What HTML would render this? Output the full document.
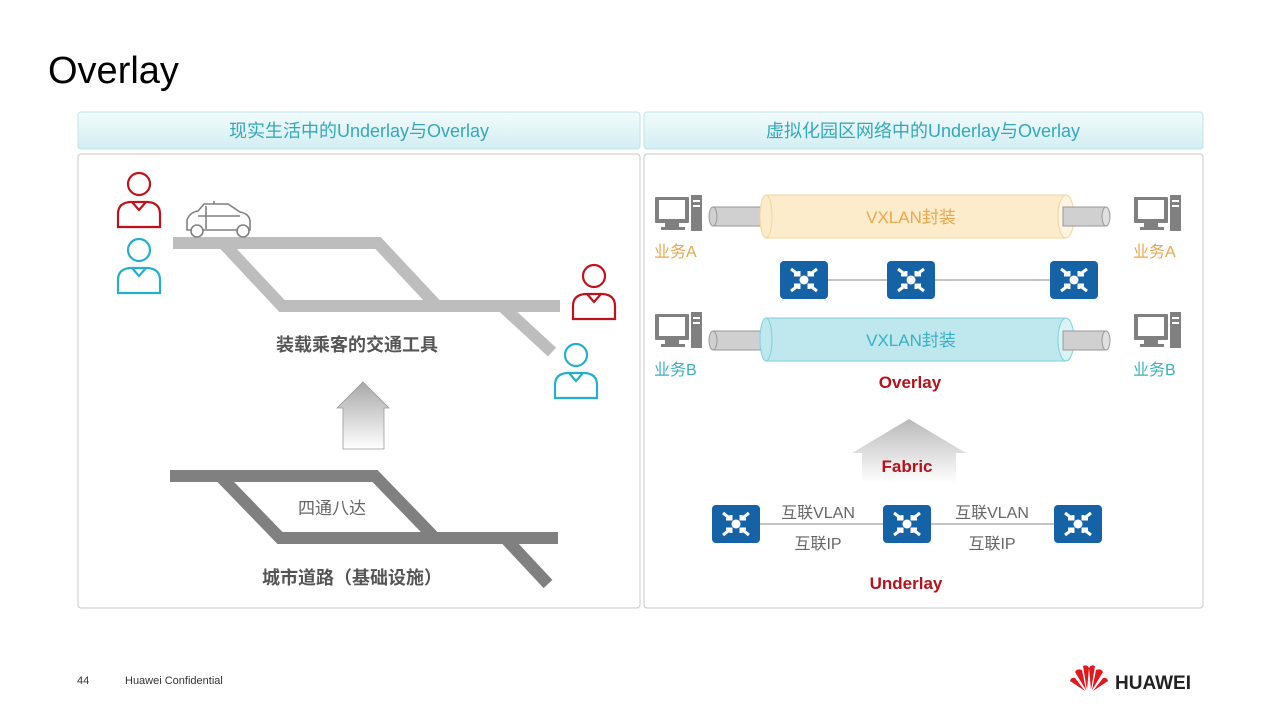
<!DOCTYPE html>
<html><head><meta charset="utf-8"><style>
body{margin:0;background:#fff;}
svg{display:block;font-family:"Liberation Sans","Noto Sans CJK SC",sans-serif;}
</style></head><body>
<svg width="1280" height="720" viewBox="0 0 1280 720" xmlns="http://www.w3.org/2000/svg">
<defs>
<linearGradient id="hdr" x1="0" y1="0" x2="0" y2="1"><stop offset="0" stop-color="#f2fbfc"/><stop offset="1" stop-color="#d3eef2"/></linearGradient>
<linearGradient id="arr" x1="0" y1="0" x2="0" y2="1"><stop offset="0" stop-color="#a8a8a8"/><stop offset="1" stop-color="#ffffff"/></linearGradient>
<g id="pR" fill="none" stroke-width="2.2"><circle cx="0" cy="0" r="11"/><path d="M-21 43 V30 Q-21 19 -9 18 H9 Q21 19 21 30 V43 Z M-7 18 L0 26 L7 18"/></g>
<g id="sw"><rect x="0" y="0" width="48" height="38" rx="4" fill="#1662a6"/><circle cx="24" cy="19" r="4.5" fill="#fff"/><g stroke="#fff" stroke-width="3" fill="none"><path d="M11 8 L19 14 M14 14 H19 V10"/><path d="M37 8 L29 14 M34 14 H29 V10"/><path d="M11 30 L19 24 M14 24 H19 V28"/><path d="M37 30 L29 24 M34 24 H29 V28"/></g></g>
<g id="pc" fill="#808080"><rect x="0" y="2" width="34" height="26" rx="1"/><rect x="4" y="5" width="26" height="19" fill="#fff"/><rect x="10" y="28" width="14" height="4"/><rect x="6" y="32" width="24" height="3"/><rect x="36" y="0" width="11" height="36"/><rect x="38" y="5" width="7" height="2" fill="#fff"/><rect x="38" y="10" width="7" height="2" fill="#fff"/></g>
</defs>
<text x="48" y="83" font-size="38" fill="#000">Overlay</text>
<rect x="78" y="112" width="562" height="37" rx="3" fill="url(#hdr)" stroke="#bfe3e9"/>
<rect x="644" y="112" width="559" height="37" rx="3" fill="url(#hdr)" stroke="#bfe3e9"/>
<text x="359" y="137" font-size="18" fill="#35a8b8" text-anchor="middle">现实生活中的Underlay与Overlay</text>
<text x="923" y="137" font-size="18" fill="#35a8b8" text-anchor="middle">虚拟化园区网络中的Underlay与Overlay</text>
<rect x="78" y="154" width="562" height="454" rx="3" fill="#fff" stroke="#c8c8c8"/>
<rect x="644" y="154" width="559" height="454" rx="3" fill="#fff" stroke="#c8c8c8"/>

<g stroke="#bdbdbd" stroke-width="12" fill="none">
<path d="M173 243 H378 L437 306"/><path d="M223 243 L282 306 H560"/><path d="M502 306 L552 352"/>
</g>
<g fill="none" stroke="#808080" stroke-width="1.6">
<path d="M187 230 V220 Q190 212 198 211 L204 204 H228 L240 212 Q250 214 250 222 V230 Z"/>
<path d="M206 206 V229 M198 216 H240 M214 201 V204"/>
<circle cx="197" cy="231" r="6" fill="#fff"/><circle cx="243" cy="231" r="6" fill="#fff"/>
</g>
<use href="#pR" x="139" y="184" stroke="#c0121c"/>
<use href="#pR" x="139" y="250" stroke="#25aed0"/>
<use href="#pR" x="594" y="276" stroke="#c0121c"/>
<use href="#pR" x="576" y="355" stroke="#25aed0"/>
<text x="357" y="351" font-size="18" font-weight="bold" fill="#555" text-anchor="middle">装载乘客的交通工具</text>
<path d="M363 382 L389 408 H384 V449 H343 V408 H337 Z" fill="url(#arr)" stroke="#999" stroke-width="0.8"/>
<g stroke="#808080" stroke-width="12" fill="none">
<path d="M170 476 H375 L435 538"/><path d="M220 476 L280 538 H558"/><path d="M505 538 L548 584"/>
</g>
<text x="332" y="514" font-size="17" fill="#666" text-anchor="middle">四通八达</text>
<text x="352" y="584" font-size="18" font-weight="bold" fill="#555" text-anchor="middle">城市道路（基础设施）</text>

<g>
<rect x="713" y="207" width="60" height="19" fill="#d0d0d0" stroke="#999"/><ellipse cx="713" cy="216.5" rx="4" ry="9.5" fill="#d0d0d0" stroke="#999"/>
<rect x="766" y="195" width="300" height="43" fill="#fdeccb" stroke="#f1d59a"/>
<ellipse cx="766" cy="216.5" rx="6" ry="21.5" fill="#fdeccb" stroke="#f1d59a"/>
<ellipse cx="1066" cy="216.5" rx="8" ry="21.5" fill="#fff5e2" stroke="#f1d59a"/>
<rect x="1063" y="207" width="43" height="19" fill="#d0d0d0" stroke="#999"/><ellipse cx="1106" cy="216.5" rx="4" ry="9.5" fill="#e0e0e0" stroke="#999"/>
<text x="911" y="223" font-size="17" fill="#e8a84c" text-anchor="middle">VXLAN封装</text>

<rect x="713" y="331" width="60" height="19" fill="#d0d0d0" stroke="#999"/><ellipse cx="713" cy="340.5" rx="4" ry="9.5" fill="#d0d0d0" stroke="#999"/>
<rect x="766" y="318" width="300" height="43" fill="#bfe8ee" stroke="#7fcfdc"/>
<ellipse cx="766" cy="339.5" rx="6" ry="21.5" fill="#bfe8ee" stroke="#7fcfdc"/>
<ellipse cx="1066" cy="339.5" rx="8" ry="21.5" fill="#d8f2f5" stroke="#7fcfdc"/>
<rect x="1063" y="331" width="43" height="19" fill="#d0d0d0" stroke="#999"/><ellipse cx="1106" cy="340.5" rx="4" ry="9.5" fill="#e0e0e0" stroke="#999"/>
<text x="911" y="346" font-size="17" fill="#3ab0c2" text-anchor="middle">VXLAN封装</text>
</g>
<use href="#pc" x="655" y="195"/><use href="#pc" x="1134" y="195"/>
<use href="#pc" x="655" y="312"/><use href="#pc" x="1134" y="312"/>
<text x="654" y="257" font-size="16" fill="#e8a84c">业务A</text>
<text x="1133" y="257" font-size="16" fill="#e8a84c">业务A</text>
<text x="654" y="375" font-size="16" fill="#3ab0c2">业务B</text>
<text x="1133" y="375" font-size="16" fill="#3ab0c2">业务B</text>
<line x1="828" y1="280" x2="1050" y2="280" stroke="#888" stroke-width="1"/>
<use href="#sw" x="780" y="261"/><use href="#sw" x="887" y="261"/><use href="#sw" x="1050" y="261"/>
<text x="910" y="388" font-size="17" font-weight="bold" fill="#b5121b" text-anchor="middle">Overlay</text>
<path d="M909 419 L966 453 H956 V483 H862 V453 H852 Z" fill="url(#arr)" opacity="0.8"/>
<text x="907" y="472" font-size="17" font-weight="bold" fill="#b5121b" text-anchor="middle">Fabric</text>
<line x1="760" y1="524" x2="1054" y2="524" stroke="#888" stroke-width="1"/>
<use href="#sw" x="712" y="505"/><use href="#sw" x="883" y="505"/><use href="#sw" x="1054" y="505"/>
<text x="818" y="518" font-size="16" fill="#666" text-anchor="middle">互联VLAN</text>
<text x="818" y="549" font-size="16" fill="#666" text-anchor="middle">互联IP</text>
<text x="992" y="518" font-size="16" fill="#666" text-anchor="middle">互联VLAN</text>
<text x="992" y="549" font-size="16" fill="#666" text-anchor="middle">互联IP</text>
<text x="906" y="589" font-size="17" font-weight="bold" fill="#b5121b" text-anchor="middle">Underlay</text>

<text x="77" y="684" font-size="11" fill="#333">44</text>
<text x="125" y="684" font-size="11" fill="#333">Huawei Confidential</text>
<g transform="translate(1089,678)" fill="#e0181f">
<path d="M-2 12 L-6 -12 Q-2 -14 0 -10 Z"/><path d="M2 12 L6 -12 Q2 -14 0 -10 Z"/>
<path d="M-3 12 L-14 -6 Q-12 -10 -7 -8 Z"/><path d="M3 12 L14 -6 Q12 -10 7 -8 Z"/>
<path d="M-4 13 L-19 3 Q-18 -1 -14 0 Z"/><path d="M4 13 L19 3 Q18 -1 14 0 Z"/>
</g>
<text x="1115" y="689" font-size="19" font-weight="bold" fill="#222">HUAWEI</text>
</svg>
</body></html>
